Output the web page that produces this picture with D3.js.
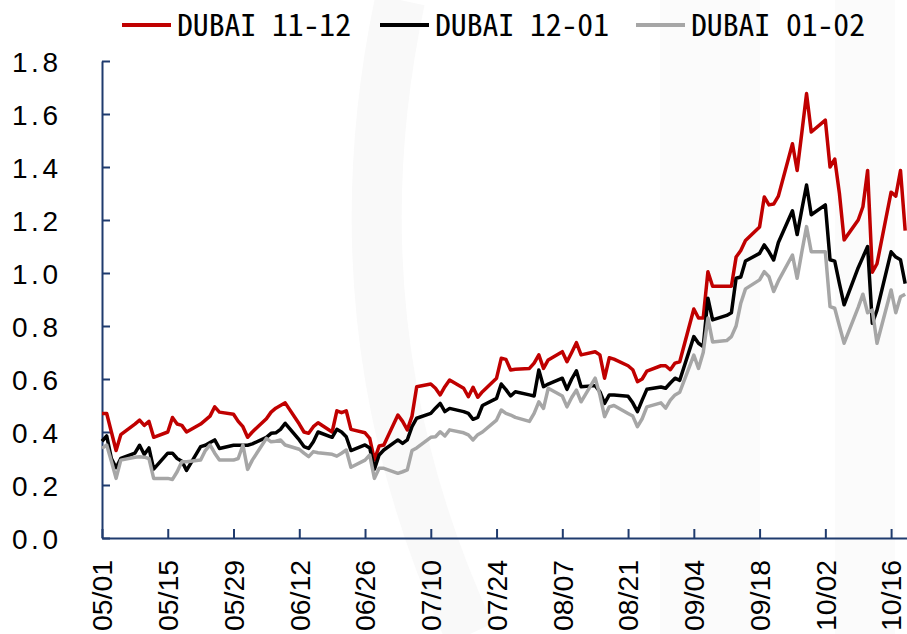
<!DOCTYPE html>
<html><head><meta charset="utf-8">
<script src="https://cdn.jsdelivr.net/npm/d3@7"></script>
<style>
body{margin:0;background:#fff}
svg{display:block}
text{font-family:"Noto Sans Mono CJK SC","DejaVu Sans Mono",monospace}
.axislab{font-family:"Liberation Sans",Arial,sans-serif}
</style>
</head><body>
<svg id="chart" width="907" height="634"></svg>
<script>
// ---------- data ----------
const year = "2023";
const dates = [
 "05-01","05-02","05-03","05-04","05-05",
 "05-08","05-09","05-10","05-11","05-12",
 "05-15","05-16","05-17","05-18","05-19",
 "05-22","05-23","05-24","05-25","05-26",
 "05-29","05-30","05-31","06-01","06-02",
 "06-05","06-06","06-07","06-08","06-09",
 "06-12","06-13","06-14","06-15","06-16",
 "06-19","06-20","06-21","06-22","06-23",
 "06-26","06-27","06-28","06-29","06-30",
 "07-03","07-04","07-05","07-06","07-07",
 "07-10","07-11","07-12","07-13","07-14",
 "07-17","07-18","07-19","07-20","07-21",
 "07-24","07-25","07-26","07-27","07-28",
 "07-31","08-01","08-02","08-03","08-04",
 "08-07","08-08","08-09","08-10","08-11",
 "08-14","08-15","08-16","08-17","08-18",
 "08-21","08-22","08-23","08-24","08-25",
 "08-28","08-29","08-30","08-31","09-01",
 "09-04","09-05","09-06","09-07","09-08",
 "09-11","09-12","09-13","09-14","09-15",
 "09-18","09-19","09-20","09-21","09-22",
 "09-25","09-26","09-27","09-28","09-29",
 "10-02","10-03","10-04","10-05","10-06",
 "10-09","10-10","10-11","10-12","10-13",
 "10-16","10-17","10-18","10-19"
];
const seriesNames = ["DUBAI 11-12","DUBAI 12-01","DUBAI 01-02"];
const dubai1112 = [
 0.47,0.47,0.40,0.33,0.39,
 0.43,0.445,0.425,0.44,0.38,
 0.40,0.455,0.43,0.425,0.40,
 0.43,0.445,0.46,0.495,0.475,
 0.467,0.44,0.42,0.38,0.40,
 0.45,0.475,0.49,0.50,0.51,
 0.43,0.40,0.395,0.42,0.435,
 0.40,0.48,0.473,0.48,0.41,
 0.397,0.376,0.294,0.347,0.351,
 0.464,0.44,0.408,0.46,0.571,
 0.581,0.565,0.54,0.571,0.596,
 0.565,0.533,0.569,0.531,0.552,
 0.603,0.678,0.674,0.634,0.637,
 0.64,0.66,0.691,0.64,0.672,
 0.703,0.665,0.70,0.737,0.691,
 0.703,0.691,0.603,0.68,0.675,
 0.65,0.635,0.59,0.60,0.63,
 0.65,0.65,0.635,0.66,0.665,
 0.864,0.83,0.83,1.005,0.95,
 0.95,0.95,1.06,1.085,1.123,
 1.174,1.287,1.257,1.26,1.29,
 1.488,1.387,1.53,1.677,1.532,
 1.577,1.40,1.43,1.30,1.125,
 1.20,1.25,1.387,1.003,1.035,
 1.305,1.29,1.387,1.16
];
const dubai1201 = [
 0.365,0.385,0.30,0.265,0.30,
 0.32,0.35,0.315,0.34,0.26,
 0.32,0.32,0.30,0.29,0.255,
 0.345,0.35,0.36,0.37,0.338,
 0.35,0.35,0.35,0.35,0.355,
 0.38,0.395,0.397,0.41,0.433,
 0.37,0.345,0.338,0.363,0.40,
 0.38,0.41,0.40,0.382,0.33,
 0.351,0.34,0.26,0.313,0.332,
 0.37,0.357,0.37,0.42,0.452,
 0.47,0.49,0.508,0.477,0.489,
 0.477,0.47,0.448,0.455,0.50,
 0.527,0.581,0.56,0.536,0.552,
 0.54,0.536,0.634,0.571,0.581,
 0.603,0.561,0.60,0.631,0.571,
 0.575,0.552,0.508,0.54,0.54,
 0.535,0.51,0.477,0.52,0.561,
 0.57,0.565,0.585,0.603,0.595,
 0.76,0.735,0.722,0.905,0.823,
 0.84,0.85,0.98,0.985,1.045,
 1.074,1.106,1.08,1.049,1.115,
 1.235,1.145,1.24,1.332,1.22,
 1.257,1.05,1.045,0.96,0.88,
 1.02,1.06,1.10,0.81,0.86,
 1.08,1.06,1.05,0.96
];
const dubai0102 = [
 0.338,0.351,0.29,0.225,0.294,
 0.305,0.307,0.305,0.30,0.225,
 0.225,0.221,0.25,0.288,0.288,
 0.294,0.33,0.351,0.32,0.294,
 0.294,0.30,0.351,0.259,0.294,
 0.376,0.363,0.365,0.37,0.351,
 0.335,0.32,0.307,0.326,0.322,
 0.316,0.309,0.32,0.332,0.267,
 0.294,0.313,0.225,0.263,0.263,
 0.244,0.25,0.257,0.33,0.34,
 0.38,0.382,0.401,0.385,0.408,
 0.397,0.389,0.37,0.39,0.40,
 0.445,0.483,0.47,0.464,0.455,
 0.44,0.47,0.514,0.489,0.565,
 0.536,0.495,0.53,0.558,0.514,
 0.603,0.54,0.458,0.495,0.50,
 0.47,0.46,0.42,0.45,0.495,
 0.51,0.49,0.52,0.54,0.55,
 0.69,0.64,0.70,0.83,0.74,
 0.745,0.76,0.80,0.886,0.94,
 0.974,1.005,0.986,0.93,0.97,
 1.068,0.98,1.08,1.175,1.08,
 1.08,0.873,0.867,0.80,0.735,
 0.87,0.92,0.85,0.86,0.735,
 0.936,0.85,0.91,0.92
];
const yTicks = [0,0.2,0.4,0.6,0.8,1.0,1.2,1.4,1.6,1.8];
const xTickLabels = ["05/01","05/15","05/29","06/12","06/26","07/10","07/24","08/07","08/21","09/04","09/18","10/02","10/16"];
const colors = ["#C00000","#000000","#A6A6A6"];

// ---------- chart ----------
const parse = d3.timeParse("%Y-%m-%d");
const xDates = dates.map(d => parse(year + "-" + d));
const series = [dubai1112, dubai1201, dubai0102].map((vals, i) => ({
  name: seriesNames[i], color: colors[i],
  points: vals.map((v, j) => ({date: xDates[j], value: v}))
}));

const svg = d3.select("#chart");
const axisColor = "#1F3B6E";

// very faint watermark
const wm = svg.append("g");
wm.append("rect").attr("x", 660).attr("y", 0).attr("width", 100).attr("height", 634).attr("fill", "#fbfbfb");
wm.append("rect").attr("x", 835).attr("y", 0).attr("width", 60).attr("height", 634).attr("fill", "#fbfbfb");
wm.append("path").attr("d", "M400,0 Q330,330 470,634").attr("fill", "none")
  .attr("stroke", "#f9f9f9").attr("stroke-width", 50);

const x = d3.scaleTime()
  .domain([parse(year + "-05-01"), parse(year + "-10-20")])
  .range([102, 102 + 172 * 4.697]);
const y = d3.scaleLinear().domain([0, 1.8]).range([538, 61]);

// y axis
const yAxis = svg.append("g").attr("transform", "translate(102,0)")
  .call(d3.axisLeft(y).tickValues(yTicks).tickFormat(d3.format(".1f"))
    .tickSizeInner(-8).tickSizeOuter(0).tickPadding(44));
yAxis.select(".domain").attr("stroke", axisColor).attr("stroke-width", 2);
yAxis.selectAll(".tick line").attr("stroke", axisColor).attr("stroke-width", 2);
yAxis.selectAll(".tick text")
  .attr("class", "axislab")
  .attr("fill", "#000").style("font-size", "28px")
  .attr("textLength", 46).attr("lengthAdjust", "spacing")
  .attr("dy", "0.36em");

// x axis
const tickDates = xTickLabels.map(s => parse(year + "-" + s.replace("/", "-")));
const xAxis = svg.append("g").attr("transform", "translate(0,538)")
  .call(d3.axisBottom(x).tickValues(tickDates)
    .tickFormat((d, i) => xTickLabels[i])
    .tickSizeInner(-9).tickSizeOuter(0));
xAxis.select(".domain").attr("stroke", axisColor).attr("stroke-width", 2);
xAxis.selectAll(".tick line").attr("stroke", axisColor).attr("stroke-width", 2);
xAxis.selectAll(".tick text")
  .attr("class", "axislab")
  .attr("fill", "#000").style("font-size", "27px")
  .attr("transform", "rotate(-90)")
  .attr("text-anchor", "end")
  .attr("x", -22).attr("y", 0).attr("dy", "0.36em")
  .attr("textLength", 71).attr("lengthAdjust", "spacingAndGlyphs");

// lines
const line = d3.line().x(d => x(d.date)).y(d => y(d.value));
svg.append("g").selectAll("path").data(series).join("path")
  .attr("fill", "none")
  .attr("stroke", d => d.color)
  .attr("stroke-width", 3.5)
  .attr("stroke-linejoin", "round")
  .attr("d", d => line(d.points));

// legend
const legendX = [122, 380, 636];
const lg = svg.append("g").selectAll("g").data(series).join("g")
  .attr("transform", (d, i) => `translate(${legendX[i]},25)`);
lg.append("line").attr("x1", 0).attr("x2", 49).attr("y1", 0).attr("y2", 0)
  .attr("stroke", d => d.color).attr("stroke-width", 4);
lg.append("text").attr("x", 55).attr("y", 0).attr("dy", "0.36em")
  .style("font-size", "30px").attr("fill", "#000")
  .attr("textLength", 174).attr("lengthAdjust", "spacingAndGlyphs")
  .text(d => d.name);
</script>
</body></html>
